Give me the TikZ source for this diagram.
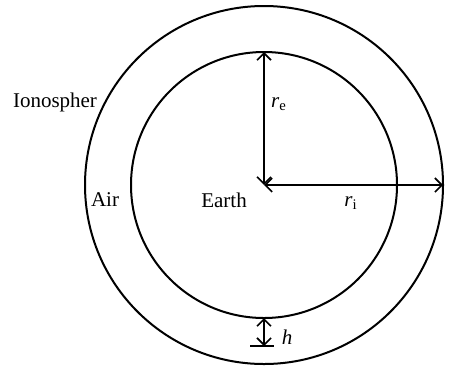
\documentclass[tikz,border=0pt]{standalone}
\usepackage{fontspec}
\setmainfont{Liberation Serif}
\usetikzlibrary{arrows.meta}

\begin{document}
\begin{tikzpicture}[
    x=0.5pt, y=0.5pt,
    font=\fontsize{10.5}{12}\selectfont,
% Line styles
    shell/.style={draw=black, line width=1pt},
    radius arrow/.style={<->, >={Straight Barb[length=3.5pt, width=7pt]}, line width=0.8pt},
    label/.style={inner sep=0pt}
]
\useasboundingbox (0, 0) rectangle (458, 371);

% 1. Earth and ionosphere shells
\coordinate (centre) at (264, 186);
\draw[shell] (centre) circle[radius=133];
\draw[shell] (centre) circle[radius=179];

% 2. Radii
\coordinate (earthtop) at (264, 319);
\coordinate (ionoright) at (443, 186);
\draw[radius arrow] (centre) -- (earthtop);
\draw[radius arrow] (centre) -- (ionoright);

% 3. Height of the air layer
\coordinate (earthbottom) at (264, 53);
\coordinate (ground) at (264, 25);
\coordinate (groundleft) at (250, 25);
\coordinate (groundright) at (274, 25);
\draw[radius arrow] (earthbottom) -- (ground);
\draw[line width=0.8pt] (groundleft) -- (groundright);

% 4. Labels
\node[label] (ionolabel) at (55, 269) {Ionospher};
\node[label] (airlabel) at (105, 171) {Air};
\node[label] (earthlabel) at (224, 171) {Earth};
\node[label] (relabel) at (279, 267) {\textit{r}\textsubscript{e}};
\node[label] (rilabel) at (351, 168) {\textit{r}\textsubscript{i}};
\node[label] (hlabel) at (287, 34) {\textit{h}};

\end{tikzpicture}
\end{document}
